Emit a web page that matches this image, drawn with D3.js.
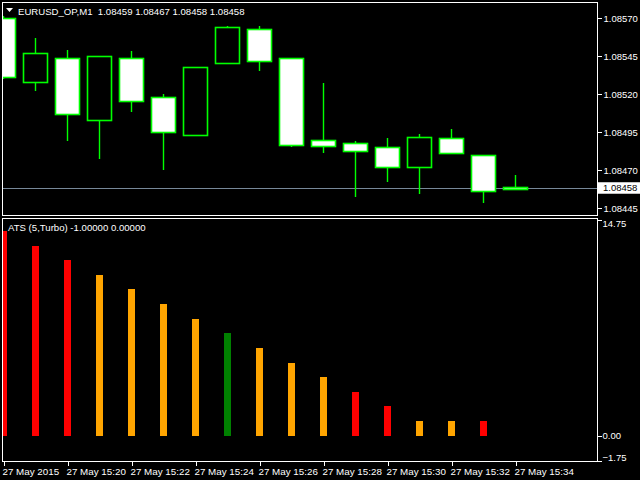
<!DOCTYPE html>
<html><head><meta charset="utf-8">
<script src="https://cdn.jsdelivr.net/npm/d3@7"></script>
<style>
html,body{margin:0;padding:0;background:#000;}
svg{display:block;}
text{font-family:"Liberation Sans",Arial,sans-serif;fill:#fff;}
</style></head>
<body>
<svg id="c" width="640" height="480"></svg>
<script>
// ---- data ----
const times = ["15:18","15:19","15:20","15:21","15:22","15:23","15:24","15:25","15:26","15:27","15:28","15:29","15:30","15:31","15:32","15:33","15:34"];
const opens  = [1.08570,1.08528,1.08544,1.08503,1.08544,1.08518,1.08493,1.08540,1.08563,1.08544,1.08490,1.08488,1.08485,1.08472,1.08491,1.08480,1.08459];
const highs  = [1.08571,1.08557,1.08549,1.08545,1.08548,1.08520,1.08538,1.08565,1.08565,1.08544,1.08527,1.08489,1.08491,1.08494,1.08497,1.08480,1.08467];
const lows   = [1.08530,1.08522,1.08489,1.08477,1.08508,1.08470,1.08493,1.08540,1.08535,1.08485,1.08481,1.08452,1.08462,1.08454,1.08481,1.08448,1.08458];
const closes = [1.08531,1.08547,1.08507,1.08545,1.08516,1.08495,1.08538,1.08564,1.08542,1.08487,1.08486,1.08483,1.08472,1.08492,1.08481,1.08456,1.08458];
const atsValues = [14,13,12,11,10,9,8,7,6,5,4,3,2,1,1,1];
const atsColors = ["red","red","red","orange","orange","orange","orange","green","orange","orange","orange","red","red","orange","orange","red"];
const priceTicks = [1.08570,1.08545,1.08520,1.08495,1.08470,1.08445];
const atsTicks = [14.75,0.00,-1.75];
const timeLabelIdx = [0,2,4,6,8,10,12,14,16];
const currentPrice = 1.08458;
const colorMap = {red:"#ff0000",orange:"#ffa500",green:"#008000"};

const svg = d3.select("#c");
const R = 597, L = 2.5;
const x = d3.scaleLinear().domain([0,16]).range([3.5,515.5]);
const yP = d3.scaleLinear().domain([1.08445,1.08570]).range([208,18]);
const yA = d3.scaleLinear().domain([-1.75,14.75]).range([461.3,220]);
const px = v => Math.round(v) + 0.5;

// clip paths
const defs = svg.append("defs");
defs.append("clipPath").attr("id","cp1").append("rect").attr("x",3).attr("y",3).attr("width",R-3).attr("height",213);
defs.append("clipPath").attr("id","cp2").append("rect").attr("x",3).attr("y",220).attr("width",R-3).attr("height",241);

// upper panel
const g1 = svg.append("g").attr("clip-path","url(#cp1)");
g1.append("line").attr("x1",3).attr("x2",R).attr("y1",px(yP(currentPrice))).attr("y2",px(yP(currentPrice)))
  .attr("stroke","#778899").attr("stroke-width",1).attr("shape-rendering","crispEdges");
const idx = d3.range(opens.length);
const cg = g1.selectAll("g.c").data(idx).join("g");
cg.append("line")
  .attr("x1",i=>Math.floor(x(i))+0.5).attr("x2",i=>Math.floor(x(i))+0.5)
  .attr("y1",i=>Math.round(yP(highs[i]))).attr("y2",i=>Math.round(yP(lows[i])))
  .attr("stroke","#00ff00").attr("stroke-width",1.4);
cg.append("rect")
  .attr("x",i=>Math.floor(x(i))-11.5).attr("width",24)
  .attr("y",i=>px(yP(Math.max(opens[i],closes[i]))))
  .attr("height",i=>Math.max(1,Math.round(Math.abs(yP(opens[i])-yP(closes[i])))))
  .attr("fill",i=>closes[i]>opens[i]?"#000":"#fff")
  .attr("stroke","#00ff00").attr("stroke-width",1.6);

// lower panel bars
const g2 = svg.append("g").attr("clip-path","url(#cp2)").attr("shape-rendering","crispEdges");
g2.selectAll("rect.b").data(atsValues).join("rect")
  .attr("x",(d,i)=>Math.floor(x(i))-3).attr("width",7)
  .attr("y",d=>Math.round(yA(d))).attr("height",d=>Math.round(yA(0))-Math.round(yA(d)))
  .attr("fill",(d,i)=>colorMap[atsColors[i]]);

// frames
const fr = svg.append("g").attr("fill","none").attr("stroke","#fff").attr("stroke-width",1).attr("shape-rendering","crispEdges");
fr.append("rect").attr("x",L).attr("y",2.5).attr("width",R-L).attr("height",213);
fr.append("rect").attr("x",L).attr("y",218.5).attr("width",R-L).attr("height",243);

// right price axis
const axP = d3.axisRight(yP).tickValues(priceTicks).tickFormat(d3.format(".5f")).tickSize(4).tickPadding(2);
const gP = svg.append("g").attr("transform",`translate(${R+0.5},0)`).call(axP);
gP.select(".domain").remove();
gP.selectAll("line").attr("stroke","#fff").attr("shape-rendering","crispEdges");
gP.selectAll("text").attr("fill","#fff").style("font-size","9.5px").style("font-family","'Liberation Sans',Arial,sans-serif");

// current price label
svg.append("rect").attr("x",598).attr("y",yP(currentPrice)-6).attr("width",42).attr("height",11.5).attr("fill","#fff");
svg.append("text").attr("x",603).attr("y",yP(currentPrice)).attr("dy","0.34em")
  .style("font-size","9.5px").style("fill","#000").text(d3.format(".5f")(currentPrice));

// right ats axis
const axA = d3.axisRight(yA).tickValues(atsTicks).tickFormat(d3.format(".2f")).tickSize(4).tickPadding(1);
const gA = svg.append("g").attr("transform",`translate(${R+0.5},0)`).call(axA);
gA.select(".domain").remove();
gA.selectAll("line").attr("stroke","#fff").attr("shape-rendering","crispEdges");
gA.selectAll("text").attr("fill","#fff").style("font-size","9.5px").style("font-family","'Liberation Sans',Arial,sans-serif")
  .attr("dy",d=>d===14.75?"0.72em":(d===-1.75?"-0.1em":"0.32em"));

// time axis
const axT = d3.axisBottom(x).tickValues(timeLabelIdx).tickSize(4).tickPadding(3)
  .tickFormat(i=>i===0?"27 May 2015":"27 May "+times[i]);
const gT = svg.append("g").attr("transform","translate(0,461.5)").call(axT);
gT.select(".domain").remove();
gT.selectAll("line").attr("stroke","#fff").attr("shape-rendering","crispEdges");
gT.selectAll("text").attr("fill","#fff").attr("text-anchor","start").attr("x",-1.5)
  .style("font-size","9.8px").style("font-family","'Liberation Sans',Arial,sans-serif");

// headers
svg.append("path").attr("d","M6,8 L13,8 L9.5,12 Z").attr("fill","#fff");
svg.append("text").attr("x",18).attr("y",14.5).style("font-size","9.6px")
  .attr("xml:space","preserve")
  .text(`EURUSD_OP,M1  ${d3.format(".5f")(opens[16])} ${d3.format(".5f")(highs[16])} ${d3.format(".5f")(lows[16])} ${d3.format(".5f")(closes[16])}`);
svg.append("text").attr("x",8).attr("y",230.5).style("font-size","9.6px")
  .text("ATS (5,Turbo) -1.00000 0.00000");
</script>
</body></html>
